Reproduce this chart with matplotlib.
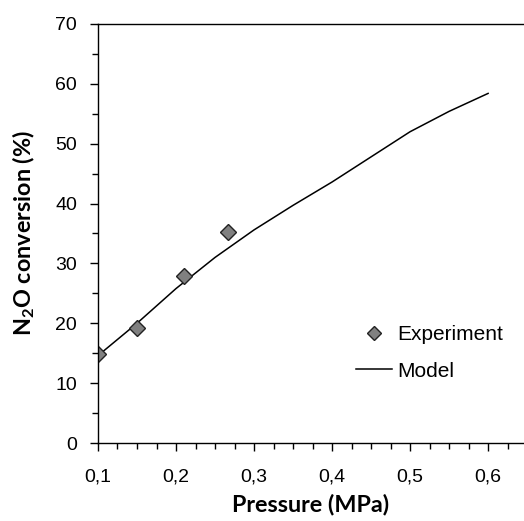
import matplotlib.pyplot as plt
from matplotlib.ticker import MultipleLocator, FuncFormatter

plt.rcParams["mathtext.fontset"] = "custom"
plt.rcParams["mathtext.bf"] = "Lato:bold"
plt.rcParams["mathtext.rm"] = "Lato:bold"

# Experimental data
exp_pressure = [0.10, 0.15, 0.21, 0.266]
exp_conversion = [14.9, 19.2, 27.9, 35.2]

# Model curve
model_pressure = [0.10, 0.15, 0.20, 0.25, 0.30, 0.35, 0.40, 0.45, 0.50, 0.55, 0.60]
model_conversion = [14.6, 20.0, 25.8, 31.0, 35.6, 39.7, 43.6, 47.8, 52.0, 55.4, 58.4]

fig = plt.figure(figsize=(5.24, 5.21), dpi=100)
ax = fig.add_axes([0.187, 0.1497, 0.813, 0.8043])

ax.plot(model_pressure, model_conversion, color="black", linewidth=1.1, label="Model")
ax.plot(exp_pressure, exp_conversion, linestyle="none", marker="D", markersize=8,
        markerfacecolor="#808080", markeredgecolor="#222222", markeredgewidth=1.0,
        label="Experiment")

ax.set_xlim(0.1, 0.646)
ax.set_ylim(0, 70)

ax.xaxis.set_major_locator(MultipleLocator(0.1))
ax.xaxis.set_minor_locator(MultipleLocator(0.025))
ax.yaxis.set_major_locator(MultipleLocator(10))
ax.yaxis.set_minor_locator(MultipleLocator(5))
ax.xaxis.set_major_formatter(FuncFormatter(lambda v, p: ("%.1f" % v).replace(".", ",")))

ax.tick_params(which="major", direction="out", length=6, width=1.0, labelsize=14)
ax.tick_params(axis="x", which="major", pad=12)
ax.tick_params(axis="y", which="major", pad=9)
ax.tick_params(which="minor", direction="out", length=4, width=1.0)
for lab in ax.get_xticklabels() + ax.get_yticklabels():
    lab.set_family("Liberation Sans")

ax.spines["right"].set_visible(False)
for s in ["left", "bottom", "top"]:
    ax.spines[s].set_linewidth(1.0)

ax.set_xlabel("Pressure (MPa)", fontsize=16.8, fontweight="bold", family="Lato", labelpad=6)
ax.set_ylabel("N$_\\mathbf{2}$O conversion (%)", fontsize=16.8, fontweight="bold",
              family="Lato", labelpad=13)

handles, labels = ax.get_legend_handles_labels()
leg = ax.legend(handles[::-1], labels[::-1], loc="upper left",
                bbox_to_anchor=(356 / 524, 1 - 325 / 521), bbox_transform=fig.transFigure,
                frameon=False, borderpad=0, borderaxespad=0,
                prop={"family": "Liberation Sans", "size": 15},
                handlelength=1.75, handletextpad=0.25, labelspacing=0.85,
                markerscale=0.85)

fig.savefig("out.png", dpi=100)
